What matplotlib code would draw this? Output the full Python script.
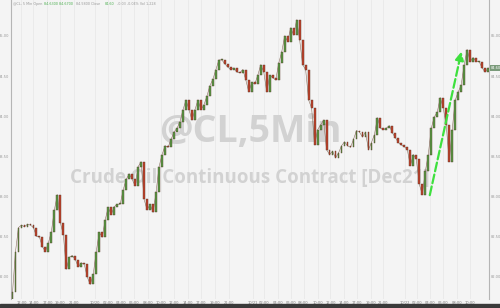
import matplotlib
matplotlib.use("Agg")
import matplotlib.pyplot as plt
from matplotlib.patches import Rectangle

# closing prices of the candles (left to right)
closes = [
    81.80, 82.31, 82.61, 82.64, 82.62, 82.65, 82.64, 82.61, 82.50, 82.49,
    82.37, 82.31, 82.42, 82.56, 82.83, 83.02, 82.67, 82.52, 82.09, 82.24,
    82.26, 82.21, 82.12, 82.17, 82.15, 81.99, 81.90, 82.03, 82.31, 82.55,
    82.49, 82.71, 82.86, 82.77, 82.87, 82.90, 82.90, 83.08, 83.21, 83.28,
    83.21, 83.13, 83.37, 83.43, 82.96, 82.83, 82.90, 82.80, 83.05, 83.37,
    83.52, 83.63, 83.61, 83.71, 83.80, 83.85, 83.93, 84.08, 84.20, 84.08,
    83.95, 84.08, 84.20, 84.08, 84.14, 84.25, 84.38, 84.46, 84.58, 84.70,
    84.70, 84.65, 84.61, 84.58, 84.60, 84.55, 84.54, 84.58, 84.45, 84.30,
    84.42, 84.40, 84.51, 84.64, 84.55, 84.30, 84.51, 84.48, 84.45, 84.66,
    84.80, 85.00, 84.93, 85.10, 85.01, 85.20, 84.95, 84.64, 84.58, 84.20,
    84.10, 83.64, 83.83, 83.89, 83.95, 83.58, 83.52, 83.56, 83.48, 83.54,
    83.63, 83.68, 83.63, 83.61, 83.71, 83.82, 83.80, 83.74, 83.80, 83.58,
    83.67, 83.77, 83.98, 83.85, 83.83, 83.85, 83.88, 83.79, 83.73, 83.67,
    83.64, 83.62, 83.58, 83.38, 83.52, 83.46, 83.15, 83.02, 83.31, 83.52,
    83.85, 83.99, 84.05, 84.23, 84.10, 83.89, 83.43, 83.83, 84.20, 84.30,
    84.39, 84.64, 84.83, 84.68, 84.73, 84.68, 84.68, 84.60, 84.55, 84.60,
]
first_open = 81.70

price_ticks = [85.00, 84.50, 84.00, 83.50, 83.00, 82.50, 82.00]
time_labels = [
    "12:00", "14:00", "17:00", "19:00", "21:00", "10/20",
    "02:00", "04:00", "06:00", "08:00", "10:00", "12:00", "14:00", "17:00", "19:00", "21:00", "10/21",
    "02:00", "04:00", "06:00", "08:00", "10:00", "12:00", "14:00", "17:00", "19:00", "21:00", "10/22",
    "02:00", "04:00", "06:00", "08:00", "10:00",
]
time_pos = [
    3, 7, 11.7, 16, 20.7, 27.7,
    32, 36.3, 40.7, 45.3, 49.7, 54, 58.7, 63, 67.7, 72.3, 80.3,
    84, 88.7, 93, 97.3, 102, 106.3, 110.7, 115.3, 120, 124, 131.3,
    135.3, 139.7, 144, 148.7, 153,
]

opens = [first_open] + closes[:-1]
up = [c >= o for o, c in zip(opens, closes)]
bottoms = [min(o, c) for o, c in zip(opens, closes)]
heights = [max(abs(c - o), 0.012) for o, c in zip(opens, closes)]
colors = ["#559c44" if u else "#c2412b" for u in up]

bg = "#f4f4f4"
fig = plt.figure(figsize=(5.0, 3.08), dpi=100, facecolor=bg)
ax = fig.add_axes([0.022, 0.028, 0.956, 0.972], facecolor=bg)

# watermark
ax.text(0.5, 0.56, "@CL,5Min", transform=ax.transAxes, ha="center", va="center",
        fontsize=27, fontweight="bold", color="#d2d2d2", family="Open Sans", zorder=1)
ax.text(0.5, 0.405, "Crude Oil Continuous Contract [Dec21]", transform=ax.transAxes,
        ha="center", va="center", fontsize=13.5, fontweight="bold", color="#d2d2d2",
        family="Open Sans", zorder=1)

x = list(range(len(closes)))
ax.plot(x, closes, color="#8a7060", linewidth=0.4, zorder=2)
ax.bar(x, heights, bottom=bottoms, width=0.62, color=colors,
       edgecolor="#5a3a2a", linewidth=0.3, zorder=3)

# green arrow
ax.annotate("", xy=(150.3, 84.84), xytext=(139.3, 82.98),
            arrowprops=dict(arrowstyle="-|>,head_width=0.25,head_length=0.5",
                            color="#3ee03e", lw=1.6, linestyle=(0, (4, 1.5))),
            zorder=4)

ax.set_xlim(-0.5, 159.3)
ax.set_ylim(81.714, 85.448)

ax.set_xticks(time_pos)
ax.set_xticklabels(time_labels)
ax.tick_params(axis="x", length=0, pad=1.5, labelsize=2.6, labelcolor="#777777")
ax.grid(axis="x", color="#e9e9e9", linewidth=0.6)
ax.set_axisbelow(True)

ax.set_yticks(price_ticks)
ax.set_yticklabels([f"{p:.2f}" for p in price_ticks])
ax.tick_params(axis="y", length=0, pad=1, labelsize=2.6, labelcolor="#999999",
               left=False, right=False, labelleft=True, labelright=True)

for side in ["top", "bottom"]:
    ax.spines[side].set_visible(False)
for side in ["left", "right"]:
    ax.spines[side].set_color("#b5b5b5")
    ax.spines[side].set_linewidth(0.8)

# last price marker on the right
ax.text(1.003, closes[-1], f"{closes[-1]:.2f}", transform=ax.get_yaxis_transform(),
        ha="left", va="center", fontsize=2.6, color="#ffffff",
        bbox=dict(boxstyle="square,pad=0.25", fc="#7a9a7a", ec="none"))

# header line
header = [
    (0.004, "@CL, 5 Min Open", "#999999"),
    (0.069, "84.6300 84.6700", "#4caf50"),
    (0.136, "84.5800 Close", "#999999"),
    (0.197, "84.60", "#4caf50"),
    (0.222, "-0.03 -0.04% Vol 1,228", "#999999"),
]
for hx, txt, col in header:
    ax.text(hx, 0.992, txt, transform=ax.transAxes, ha="left", va="top",
            fontsize=2.4, color=col)

# dark strip at the bottom
fig.add_artist(Rectangle((0, 0), 1, 0.012, transform=fig.transFigure,
                         color="#3a3a3a", zorder=0))

fig.savefig("out.png", dpi=100, facecolor=bg)
